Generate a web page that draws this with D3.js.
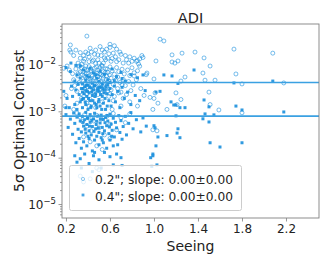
<!DOCTYPE html>
<html><head><meta charset="utf-8">
<script src="https://cdn.jsdelivr.net/npm/d3@7"></script>
<style>
html,body{margin:0;padding:0;background:#fff;}
svg{display:block;font-family:"DejaVu Sans",sans-serif;}
</style></head>
<body>
<svg id="chart" width="332" height="266"></svg>
<script>
const title = "ADI";
const xLabel = "Seeing";
const yLabel = "5σ Optimal Contrast";
const xTicks = [0.2, 0.6, 1.0, 1.4, 1.8, 2.2];
const yTickExps = [-5, -4, -3, -2];
const legendLabels = ["0.2\"; slope: 0.00±0.00", "0.4\"; slope: 0.00±0.00"];
const refLines = [0.0042, 0.00079];

// 0.2" series: [seeing, contrast]
const points02 = [
[1.055,0.036],[1.09,0.033],[1.727,0.022],[2.08,0.018],[1.373,0.019],[1.255,0.018],[1.164,0.0165],[1.455,0.0142],
[1.018,0.0122],[1.164,0.0116],[1.19,0.011],[1.218,0.0122],[1.51,0.0095],[0.936,0.0067],[1.445,0.0067],[1.745,0.0064],
[1.0,0.005],[1.282,0.0055],[1.245,0.0045],[1.464,0.0047],[1.555,0.0047],[1.8,0.0039],[2.18,0.0041],[1.2,0.0025],
[1.5,0.0026],[1.01,0.0025],[1.0,0.0019],[1.036,0.0015],[1.245,0.0018],[1.21,0.0014],[1.51,0.0014],[1.118,0.0011],
[0.99,0.0011],[1.59,0.00107],[1.8,0.00093],[0.99,0.0004],[1.027,0.00038],[0.964,0.002],[0.89,0.016],[0.9,0.0145],
[0.85,0.0125],[0.87,0.0135],[0.82,0.0058],
[0.24,0.027],[0.235,0.021],[0.245,0.019],[0.39,0.042],[0.27,0.016],[0.29,0.021],[0.31,0.011],[0.33,0.014],[0.36,0.012],
[0.38,0.019],[0.41,0.015],[0.42,0.023],[0.44,0.012],[0.46,0.017],[0.47,0.021],[0.49,0.013],[0.51,0.025],[0.52,0.016],
[0.54,0.011],[0.55,0.019],[0.57,0.022],[0.58,0.014],[0.6,0.024],[0.61,0.012],[0.63,0.018],[0.65,0.015],[0.66,0.022],
[0.68,0.013],[0.7,0.017],[0.72,0.011],[0.74,0.016],[0.75,0.013],[0.78,0.015],[0.8,0.012],[0.82,0.014],[0.84,0.012],
[0.86,0.0105],[0.6,0.028],[0.64,0.026],[0.43,0.019],[0.5,0.011],[0.36,0.016],[0.53,0.021],[0.77,0.011],[0.69,0.019],[0.56,0.013],
[0.18,0.0085],[0.21,0.0095],[0.2,0.0022],[0.19,0.0013],[0.23,0.0078],[0.25,0.0031],
[0.26,0.0065],[0.27,0.0048],[0.28,0.0036],[0.29,0.0082],[0.3,0.0027],[0.31,0.0058],[0.32,0.0042],[0.33,0.0071],[0.34,0.0019],
[0.34,0.0088],[0.3,0.0015],[0.27,0.0011],
[0.35,0.0062],[0.36,0.0045],[0.37,0.0082],[0.37,0.0031],[0.38,0.0055],[0.39,0.0024],[0.4,0.0068],[0.4,0.0039],[0.41,0.0092],
[0.42,0.0049],[0.42,0.0018],[0.43,0.0074],[0.44,0.0035],[0.44,0.0058],[0.45,0.0027],[0.36,0.0021],[0.38,0.0095],[0.41,0.0013],
[0.43,0.0044],[0.39,0.0076],
[0.46,0.0085],[0.46,0.0052],[0.47,0.0033],[0.48,0.0066],[0.48,0.0041],[0.49,0.0023],[0.5,0.0078],[0.5,0.0047],[0.51,0.0029],
[0.52,0.0062],[0.52,0.0036],[0.53,0.0094],[0.53,0.0016],[0.54,0.0052],[0.55,0.0028],[0.47,0.0012],[0.49,0.0057],[0.51,0.0088],
[0.54,0.0072],[0.55,0.0041],
[0.56,0.0083],[0.57,0.0058],[0.57,0.0034],[0.58,0.0069],[0.59,0.0045],[0.59,0.0021],[0.6,0.0091],[0.61,0.0052],[0.61,0.0029],
[0.62,0.0075],[0.63,0.0038],[0.63,0.0017],[0.64,0.0063],[0.65,0.0047],[0.62,0.0011],[0.6,0.0024],
[0.66,0.0088],[0.67,0.0055],[0.67,0.0031],[0.68,0.0072],[0.69,0.0042],[0.7,0.0026],[0.71,0.0081],[0.72,0.0049],[0.72,0.0019],
[0.73,0.0064],[0.74,0.0036],[0.75,0.0023],[0.7,0.0013],
[0.76,0.0078],[0.77,0.0044],[0.78,0.0059],[0.79,0.0028],[0.8,0.0087],[0.81,0.0037],[0.82,0.0068],[0.84,0.0048],[0.85,0.0075],
[0.87,0.0094],[0.88,0.0031],[0.91,0.0022],[0.93,0.0062],[0.78,0.0016],[0.85,0.0013],
[0.345,0.0105],[0.355,0.0072],[0.365,0.0058],[0.375,0.0041],[0.385,0.0066],[0.395,0.0034],[0.405,0.0052],[0.415,0.0029],
[0.425,0.0083],[0.435,0.0062],[0.445,0.0046],[0.455,0.0071],[0.465,0.0038],[0.475,0.0091],[0.485,0.0055],[0.495,0.0032],
[0.505,0.0064],[0.515,0.0044],[0.525,0.0098],[0.535,0.0058],[0.545,0.0037],[0.555,0.0068],[0.565,0.0049],[0.575,0.0082],
[0.585,0.0031],[0.595,0.0061],[0.37,0.0135],[0.41,0.0118],[0.45,0.0128],[0.49,0.0165],[0.55,0.0142],[0.59,0.0175],
[0.62,0.0138],[0.4,0.0175],[0.33,0.0185],[0.47,0.0108],[0.66,0.0118],[0.31,0.0065],[0.32,0.0095],[0.39,0.0015],
[0.46,0.0022],[0.53,0.0026],[0.58,0.0027],[0.64,0.0021],[0.68,0.0025],[0.71,0.0037],
[0.3,0.00092],[0.33,0.00075],[0.35,0.0006],[0.37,0.00085],[0.39,0.00048],[0.41,0.00071],[0.43,0.00038],[0.45,0.00062],
[0.48,0.00082],[0.5,0.00044],[0.52,0.00068],[0.55,0.00031],[0.57,0.00078],[0.6,0.00053],[0.63,0.0009],[0.66,0.0004],
[0.7,0.00073],[0.74,0.00057],[0.78,0.00088],[0.42,0.00022],[0.48,0.00018],[0.53,0.00015],[0.6,0.00026],[0.36,0.00028],
[0.33,0.00004],[0.36,0.00003],[0.5,0.000055],[0.42,0.000035],[0.48,0.00006]
];

// 0.4" series: [seeing, contrast]
const points04 = [
[1.09,0.0061],[1.164,0.0058],[1.364,0.0078],[1.218,0.004],[1.727,0.0041],[2.08,0.0045],[1.018,0.0026],[1.055,0.0027],
[1.155,0.0016],[1.18,0.00137],[1.2,0.00137],[1.236,0.0012],[1.282,0.0012],[1.455,0.00176],[1.5,0.00125],[1.745,0.0013],
[1.8,0.00107],[2.18,0.00097],[1.2,0.0008],[1.445,0.00069],[1.464,0.00088],[1.545,0.00084],[1.5,0.00059],[1.218,0.00042],
[1.21,0.00034],[1.236,0.00027],[1.118,0.0003],[1.036,0.00028],[1.0,0.00049],[1.01,0.00044],[1.018,0.00018],[0.99,0.00012],
[0.99,0.00011],[1.51,0.00021],[1.6,0.00017],[1.8,0.00021],[1.027,0.00007],
[0.2,0.0088],[0.24,0.0072],[0.3,0.0061],[0.33,0.0095],[0.36,0.0078],[0.39,0.0058],[0.42,0.0085],[0.45,0.0068],[0.48,0.0052],
[0.51,0.0074],[0.55,0.0063],[0.58,0.0048],[0.62,0.0082],[0.66,0.0056],[0.7,0.0069],[0.74,0.0045],[0.79,0.0062],[0.85,0.0053],
[0.9,0.0061],[0.28,0.0045],[0.38,0.0047],[0.5,0.0044],[0.64,0.0046],[0.71,0.0051],[0.29,0.0098],[0.245,0.011],
[0.18,0.0027],[0.21,0.0019],[0.23,0.0012],[0.25,0.0035],[0.26,0.0021],[0.28,0.0014],[0.29,0.0029],[0.3,0.0011],[0.31,0.0038],
[0.32,0.0023],[0.33,0.0016],[0.34,0.0031],[0.35,0.0012],[0.35,0.0026],[0.36,0.0019],[0.37,0.0034],[0.38,0.0014],[0.38,0.0028],
[0.39,0.0021],[0.4,0.0037],[0.4,0.0011],[0.41,0.0025],[0.42,0.0017],[0.43,0.0032],[0.43,0.0013],[0.44,0.0022],[0.45,0.0029],
[0.46,0.0015],[0.46,0.0036],[0.47,0.0024],[0.48,0.0012],[0.49,0.0031],[0.5,0.0018],[0.5,0.0027],[0.51,0.0013],[0.52,0.0034],
[0.53,0.0021],[0.54,0.0015],[0.55,0.0029],[0.56,0.0011],[0.57,0.0024],[0.58,0.0038],[0.59,0.0017],[0.6,0.0031],[0.61,0.0013],
[0.62,0.0023],[0.64,0.0035],[0.65,0.0016],[0.67,0.0027],[0.69,0.0012],[0.71,0.0033],[0.73,0.0019],[0.76,0.0026],[0.79,0.0014],
[0.83,0.0022],[0.87,0.0017],[0.92,0.0028],[0.35,0.0039],[0.44,0.0041],[0.53,0.0039],[0.2,0.0012],
[0.345,0.0018],[0.355,0.0031],[0.365,0.0024],[0.375,0.0016],[0.385,0.0036],[0.395,0.0027],[0.405,0.0019],[0.415,0.0033],
[0.425,0.0012],[0.435,0.0026],[0.445,0.0017],[0.455,0.0035],[0.465,0.0021],[0.475,0.0014],[0.485,0.0028],[0.495,0.0016],
[0.505,0.0033],[0.515,0.0023],[0.525,0.0011],[0.535,0.0031],[0.545,0.0025],[0.555,0.0019],[0.565,0.0034],[0.575,0.0013],
[0.6,0.0042],[0.41,0.0055],[0.47,0.0062],[0.33,0.0052],
[0.2,0.00085],[0.22,0.00045],[0.24,0.00068],[0.26,0.00032],[0.27,0.00092],[0.28,0.00055],[0.29,0.00021],[0.3,0.00075],
[0.31,0.00041],[0.32,0.00088],[0.32,0.00026],[0.33,0.00062],[0.34,0.00036],[0.34,0.00016],[0.35,0.00078],[0.36,0.00048],
[0.36,0.00022],[0.37,0.00066],[0.38,0.00034],[0.38,0.00095],[0.39,0.00052],[0.39,0.00018],[0.4,0.00072],[0.41,0.00038],
[0.41,0.00026],[0.42,0.00058],[0.42,0.00085],[0.43,0.00031],[0.44,0.00047],[0.44,0.00014],[0.45,0.00069],[0.46,0.00024],
[0.46,0.00091],[0.47,0.00042],[0.48,0.00061],[0.48,0.00029],[0.49,0.00079],[0.5,0.00035],[0.5,0.00019],[0.51,0.00056],
[0.52,0.00083],[0.52,0.00027],[0.53,0.00045],[0.54,0.00067],[0.54,0.00021],[0.55,0.00038],[0.56,0.00074],[0.57,0.00049],
[0.57,0.00016],[0.58,0.00062],[0.59,0.00033],[0.6,0.00087],[0.6,0.00024],[0.61,0.00053],[0.62,0.00039],[0.63,0.00071],
[0.64,0.00028],[0.65,0.00058],[0.66,0.00044],[0.67,0.00019],[0.68,0.00081],[0.69,0.00035],[0.7,0.00063],[0.71,0.00025],
[0.72,0.00047],[0.74,0.00078],[0.75,0.00031],[0.77,0.00055],[0.79,0.00094],[0.81,0.00042],[0.84,0.00066],[0.88,0.00036],
[0.9,0.00072],[0.93,0.00048],
[0.355,0.00058],[0.375,0.00041],[0.395,0.00071],[0.415,0.00048],[0.435,0.00064],[0.455,0.00037],[0.475,0.00052],
[0.495,0.00044],[0.515,0.00068],[0.535,0.00033],[0.555,0.00057],[0.575,0.00081],[0.595,0.00046],[0.615,0.00029],
[0.4,0.00029],[0.46,0.00013],[0.53,0.00024],[0.63,0.00018],
[0.28,0.00011],[0.3,0.00008],[0.33,0.000095],[0.37,0.00012],[0.41,0.000075],[0.45,0.00011],[0.5,0.00009],[0.55,0.00013],
[0.6,0.000105],[0.66,0.00012],[0.7,0.0001],[0.71,0.000068],[0.63,0.00007],[0.52,0.00006],[0.34,0.00006],[0.44,0.00005],
[0.97,0.0001],[0.98,0.000065]
];

const color = "#1a8fdd";
const lineColor = "#3aa1e2";

const svg = d3.select("#chart");
const m = {left: 62, right: 319, top: 24, bottom: 218};
const x = d3.scaleLinear().domain([0.164, 2.5]).range([m.left, m.right]);
const y = d3.scaleLog().domain([5e-6, 0.0766]).range([m.bottom, m.top]);

svg.append("clipPath").attr("id","clip").append("rect")
  .attr("x", m.left).attr("y", m.top).attr("width", m.right-m.left).attr("height", m.bottom-m.top);

const plot = svg.append("g").attr("clip-path","url(#clip)");

plot.selectAll("circle.p02").data(points02).join("circle")
  .attr("class","p02")
  .attr("cx", d => x(d[0])).attr("cy", d => y(d[1])).attr("r", 2)
  .attr("fill","none").attr("stroke", color).attr("stroke-width", 0.8).attr("stroke-opacity", 0.75);

const sq = 3;
plot.selectAll("rect.p04").data(points04).join("rect")
  .attr("class","p04")
  .attr("x", d => x(d[0]) - sq/2).attr("y", d => y(d[1]) - sq/2)
  .attr("width", sq).attr("height", sq)
  .attr("fill", color).attr("fill-opacity", 0.9);

plot.selectAll("line.ref").data(refLines).join("line")
  .attr("class","ref")
  .attr("x1", m.left).attr("x2", m.right)
  .attr("y1", d => y(d)).attr("y2", d => y(d))
  .attr("stroke", lineColor).attr("stroke-width", 1.6);

// axes
const axisColor = "#808080";
const xAxis = svg.append("g").attr("transform", `translate(0,${m.bottom})`)
  .call(d3.axisBottom(x).tickValues(xTicks).tickFormat(d3.format(".1f")).tickSizeOuter(0).tickSize(3.5).tickPadding(3));
const yMajor = yTickExps.map(e => Math.pow(10, e));
const yAxis = svg.append("g").attr("transform", `translate(${m.left},0)`)
  .call(d3.axisLeft(y).tickValues(yMajor).tickFormat("").tickSizeOuter(0).tickSize(3.5));
const minor = [];
for (let e = -6; e <= -2; e++) for (let k = 2; k <= 9; k++) {
  const v = k * Math.pow(10, e);
  if (v >= 5e-6 && v <= 0.0766) minor.push(v);
}
const yMinor = svg.append("g").attr("transform", `translate(${m.left},0)`)
  .call(d3.axisLeft(y).tickValues(minor).tickFormat("").tickSizeOuter(0).tickSize(2));
[xAxis, yAxis, yMinor].forEach(g => {
  g.select(".domain").remove();
  g.selectAll(".tick line").attr("stroke", axisColor).attr("stroke-width", 0.8);
});
xAxis.selectAll(".tick text").attr("fill","#222").attr("font-size", 12).attr("font-family","DejaVu Sans");

// y tick labels 10^e
yTickExps.forEach(e => {
  const t = svg.append("text").attr("x", m.left - 6).attr("y", y(Math.pow(10,e)) + 4.5)
    .attr("text-anchor","end").attr("fill","#222").attr("font-size", 12);
  t.append("tspan").text("10");
  t.append("tspan").attr("dy", -5).attr("font-size", 8.5).text("−" + Math.abs(e));
});

svg.append("rect").attr("x", m.left).attr("y", m.top).attr("width", m.right-m.left).attr("height", m.bottom-m.top)
  .attr("fill","none").attr("stroke", axisColor).attr("stroke-width", 0.9);

svg.append("text").attr("x", (m.left+m.right)/2).attr("y", 23).attr("text-anchor","middle")
  .attr("font-size", 14.5).attr("fill","#222").text(title);
svg.append("text").attr("x", (m.left+m.right)/2).attr("y", 251).attr("text-anchor","middle")
  .attr("font-size", 14).attr("fill","#222").text(xLabel);
svg.append("text").attr("transform", `translate(24,${(m.top+m.bottom)/2}) rotate(-90)`).attr("text-anchor","middle")
  .attr("font-size", 14).attr("fill","#222").text(yLabel);

// legend
const lg = svg.append("g");
lg.append("rect").attr("x", 69.5).attr("y", 165.5).attr("width", 172).attr("height", 45).attr("rx", 2)
  .attr("fill","#fff").attr("fill-opacity", 0.8).attr("stroke","#cccccc").attr("stroke-width", 1);
lg.append("circle").attr("cx", 83).attr("cy", 179).attr("r", 1.6)
  .attr("fill","none").attr("stroke", color).attr("stroke-width", 0.7).attr("stroke-opacity", 0.7);
lg.append("rect").attr("x", 81.6).attr("y", 193.6).attr("width", 2.8).attr("height", 2.8).attr("fill", color).attr("fill-opacity",0.8);
lg.selectAll("text.lt").data(legendLabels).join("text").attr("class","lt")
  .attr("x", 95).attr("y", (d,i) => 183.5 + i*17).attr("font-size", 12.6)
  .attr("textLength", 138).attr("lengthAdjust","spacingAndGlyphs")
  .attr("fill","#222").text(d => d);
</script>
</body></html>
